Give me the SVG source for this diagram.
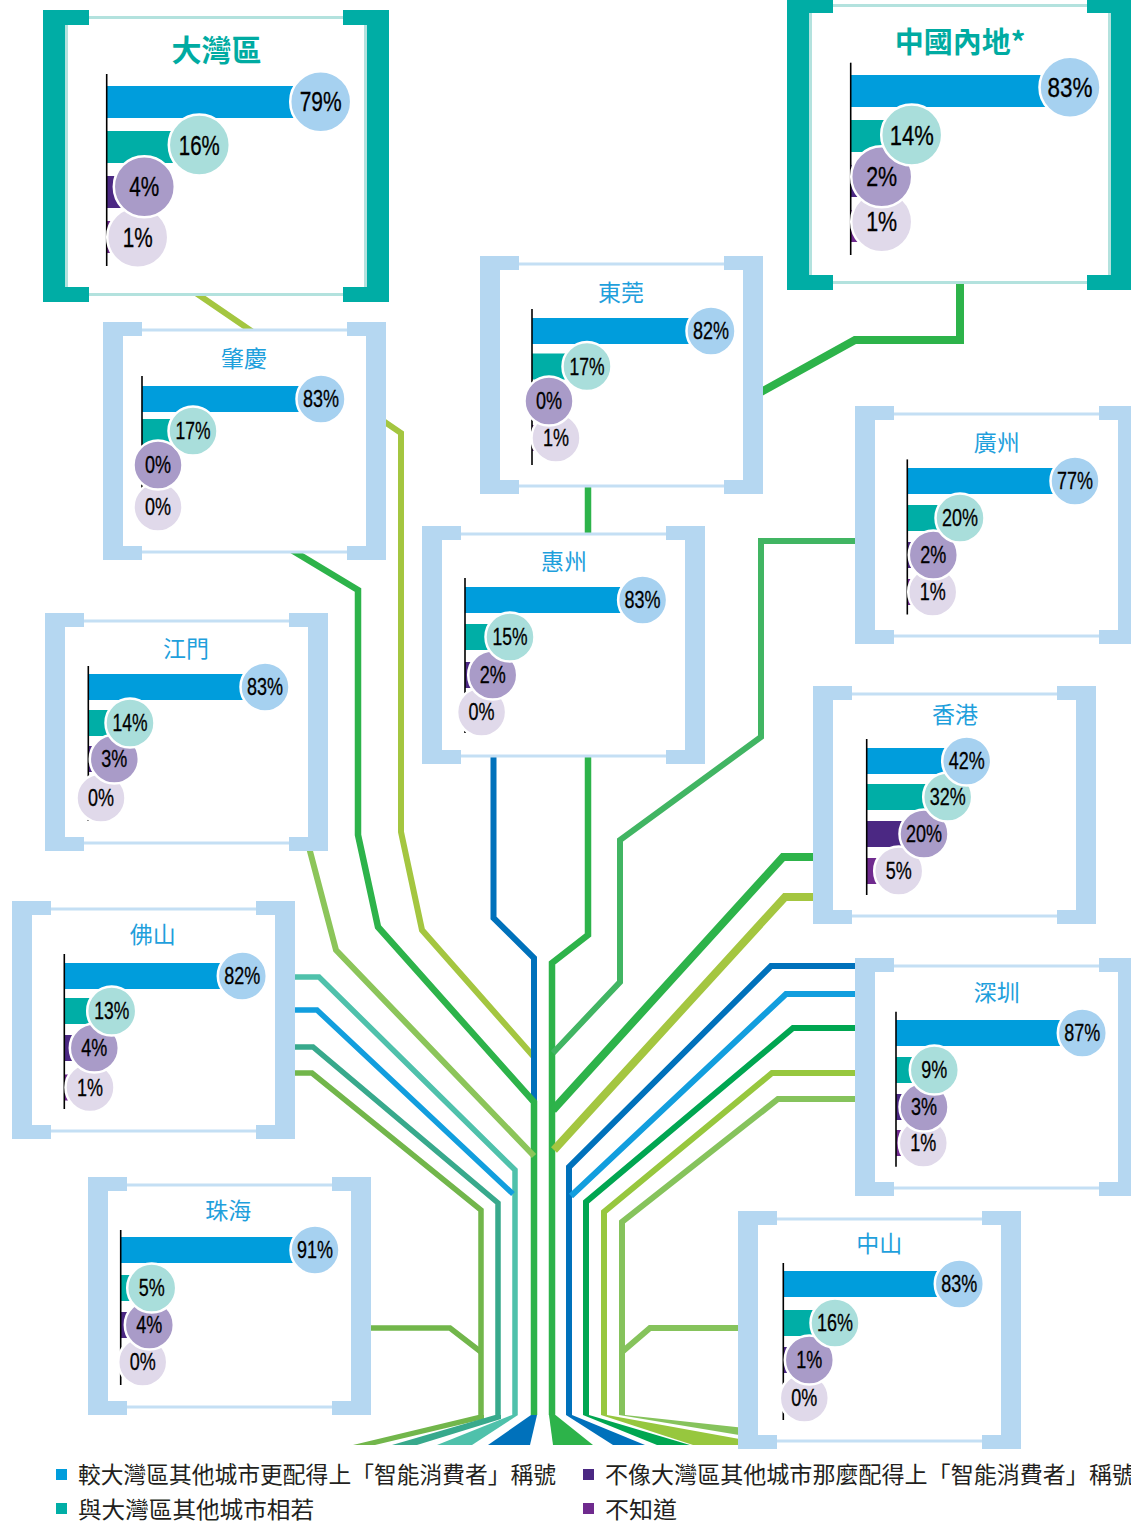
<svg xmlns="http://www.w3.org/2000/svg" xmlns:xlink="http://www.w3.org/1999/xlink" width="1131" height="1522" viewBox="0 0 1131 1522">
<style>
.t{font-family:"Noto Sans CJK TC","Noto Sans CJK SC",sans-serif;font-size:23px;fill:#1fa0dc;text-anchor:middle}
.T{font-family:"Noto Sans CJK TC","Noto Sans CJK SC",sans-serif;font-weight:700;fill:#00aba2;text-anchor:middle}
.p{font-family:"Liberation Sans",Arial,sans-serif;font-size:23.5px;fill:#000;stroke:#000;stroke-width:0.3;text-anchor:middle}
.P{font-size:27.5px}
.c{stroke:#fff;stroke-width:2.5}
.c1{fill:#a6d1f0}.c2{fill:#a9dedb}.c3{fill:#a99bc8}.c4{fill:#e0d9ea}
.b1{fill:#009ddc}.b2{fill:#00aea6}.b3{fill:#4b2883}.b4{fill:#6f2a8e}
.ax{stroke:#000;stroke-width:1.6}
.lg{font-family:"Noto Sans CJK TC","Noto Sans CJK SC",sans-serif;font-size:23px;fill:#231f20}
</style>
<defs>
<g id="fb">
<rect x="10" y="8" width="263" height="222" fill="#fff" stroke="#c4dff4" stroke-width="3"/>
<path d="M0,0H39V14H20V224H39V238H0Z M283,0H244V14H263V224H244V238H283Z" fill="#b5d7f1"/>
</g>
<g id="ft">
<rect x="23.5" y="7.5" width="299" height="277" fill="#fff" stroke="#b3e2de" stroke-width="3"/>
<path d="M0,0H46V15H22V277H46V292H0Z M346,0H300V15H324V277H300V292H346Z" fill="#00ada5"/>
</g>
</defs>
<rect width="1131" height="1522" fill="#fff"/>

<g id="connectors" fill="none" stroke-linejoin="miter" stroke-linecap="butt">
<path d="M960,280V340H855L752,397" stroke="#2db34a" stroke-width="8"/>
<path d="M190,289L401,433V832L422,930L534,1057" stroke="#a4c640" stroke-width="6"/>
<path d="M493.5,750V918L534,958V1415" stroke="#0071bb" stroke-width="6"/>
<path d="M270,537L358,590V835L378,927L534,1102V1415" stroke="#2db34a" stroke-width="6.5"/>
<path d="M306,836L336,950L534,1156" stroke="#8cc55a" stroke-width="6"/>
<path d="M588,480V935L552,963V1415" stroke="#2db34a" stroke-width="6.5"/>
<path d="M862,541H761V737L620,840V982L553,1053" stroke="#41b563" stroke-width="6"/>
<path d="M820,857H783L553,1110" stroke="#2db34a" stroke-width="8"/>
<path d="M820,897H785L554,1150" stroke="#a4c640" stroke-width="8"/>
<path d="M862,966H771L569,1167V1415" stroke="#0071bb" stroke-width="6"/>
<path d="M862,994H786L571,1196" stroke="#129ede" stroke-width="6"/>
<path d="M862,1028H793L586,1202V1415" stroke="#00a651" stroke-width="6"/>
<path d="M862,1073H772L604,1212V1415" stroke="#97c73e" stroke-width="6"/>
<path d="M862,1099H778L622,1222V1415" stroke="#86c35c" stroke-width="6"/>
<path d="M745,1328H650L622,1352" stroke="#86c35c" stroke-width="6"/>
<path d="M288,977H319L515,1170V1415" stroke="#4fc1ab" stroke-width="5.5"/>
<path d="M288,1010H317L513,1194" stroke="#129ede" stroke-width="5.5"/>
<path d="M288,1047H313L498,1203V1415" stroke="#38a98c" stroke-width="5.5"/>
<path d="M288,1073H312L481,1210V1415" stroke="#72b64b" stroke-width="5.5"/>
<path d="M362,1328H450L481,1352" stroke="#72b64b" stroke-width="5.5"/>
<g stroke="none">
<polygon points="478,1415 484,1415 484,1419 375,1445 353,1445" fill="#72b64b"/>
<polygon points="495,1415 501,1415 501,1419 417,1445 392,1445" fill="#38a98c"/>
<polygon points="512,1415 518,1415 472,1445 437,1445" fill="#4fc1ab"/>
<polygon points="531,1415 537,1415 530,1445 488,1445" fill="#0071bb"/>
<polygon points="549,1415 555.5,1415 593,1445 553,1445" fill="#2db34a"/>
<polygon points="566,1415 572,1415 645,1445 613,1445" fill="#0071bb"/>
<polygon points="583,1415 589,1415 690,1445 657,1445" fill="#00a651"/>
<polygon points="601,1415 607,1415 745,1440 745,1445 693,1445" fill="#97c73e"/>
<polygon points="619,1415 625,1415 745,1428 745,1436" fill="#86c35c"/>
</g>
</g>

<g id="node-gba" transform="translate(43,10)">
<use href="#ft"/>
<text class="T" x="173.5" y="51" font-size="30">大灣區</text>
<rect class="b1" x="63.7" y="76" width="214" height="32"/>
<rect class="b2" x="63.7" y="121" width="92.6" height="32"/>
<rect class="b3" x="63.7" y="166" width="37.6" height="32"/>
<rect class="b4" x="63.7" y="211" width="31" height="32"/>
<line class="ax" x1="63.7" y1="64" x2="63.7" y2="256"/>
<circle class="c c4" cx="94.7" cy="227.3" r="30.5"/><text class="p P" x="94.7" y="237" textLength="30" lengthAdjust="spacingAndGlyphs">1%</text>
<circle class="c c3" cx="101.3" cy="176.7" r="30.5"/><text class="p P" x="101.3" y="186.4" textLength="30" lengthAdjust="spacingAndGlyphs">4%</text>
<circle class="c c2" cx="156.3" cy="135" r="30.5"/><text class="p P" x="156.3" y="144.7" textLength="41" lengthAdjust="spacingAndGlyphs">16%</text>
<circle class="c c1" cx="277.7" cy="91.7" r="30.5"/><text class="p P" x="277.7" y="101.4" textLength="42" lengthAdjust="spacingAndGlyphs">79%</text>
</g>

<g id="node-mainland" transform="translate(787,-2)">
<use href="#ft"/>
<text class="T" x="173" y="55" font-size="29">中國內地*</text>
<rect class="b1" x="63.7" y="77" width="219.3" height="32"/>
<rect class="b2" x="63.7" y="122" width="61" height="32"/>
<rect class="b3" x="63.7" y="167" width="31" height="32"/>
<rect class="b4" x="63.7" y="212" width="31" height="32"/>
<line class="ax" x1="63.7" y1="64.7" x2="63.7" y2="257"/>
<circle class="c c4" cx="94.7" cy="223.7" r="30.5"/><text class="p P" x="94.7" y="233.4" textLength="31" lengthAdjust="spacingAndGlyphs">1%</text>
<circle class="c c3" cx="94.7" cy="178.7" r="30.5"/><text class="p P" x="94.7" y="188.4" textLength="31" lengthAdjust="spacingAndGlyphs">2%</text>
<circle class="c c2" cx="124.7" cy="137" r="30.5"/><text class="p P" x="124.7" y="146.7" textLength="44" lengthAdjust="spacingAndGlyphs">14%</text>
<circle class="c c1" cx="283" cy="89.3" r="30.5"/><text class="p P" x="283" y="99" textLength="45" lengthAdjust="spacingAndGlyphs">83%</text>
</g>

<g id="node-dongguan" transform="translate(480,256)">
<use href="#fb"/>
<text class="t" x="141" y="45">東莞</text>
<rect class="b1" x="52" y="62" width="179" height="26"/>
<rect class="b2" x="52" y="97.5" width="55" height="26"/>
<rect class="b4" x="52" y="169" width="24" height="26"/>
<line class="ax" x1="52" y1="53" x2="52" y2="209"/>
<circle class="c c4" cx="76" cy="182" r="24.5"/><text class="p" x="76" y="190.2" textLength="26" lengthAdjust="spacingAndGlyphs">1%</text>
<circle class="c c3" cx="69" cy="145" r="24.5"/><text class="p" x="69" y="153.2" textLength="26" lengthAdjust="spacingAndGlyphs">0%</text>
<circle class="c c2" cx="107" cy="110.5" r="24.5"/><text class="p" x="107" y="118.7" textLength="35" lengthAdjust="spacingAndGlyphs">17%</text>
<circle class="c c1" cx="231" cy="75" r="24.5"/><text class="p" x="231" y="83.2" textLength="36" lengthAdjust="spacingAndGlyphs">82%</text>
</g>

<g id="node-zhaoqing" transform="translate(103,322)">
<use href="#fb"/>
<text class="t" x="141" y="45">肇慶</text>
<rect class="b1" x="39" y="64" width="179" height="26"/>
<rect class="b2" x="39" y="97" width="51" height="26"/>
<line class="ax" x1="39" y1="54" x2="39" y2="203"/>
<circle class="c c4" cx="55" cy="185" r="24.5"/><text class="p" x="55" y="193.2" textLength="26" lengthAdjust="spacingAndGlyphs">0%</text>
<circle class="c c3" cx="55" cy="143" r="24.5"/><text class="p" x="55" y="151.2" textLength="26" lengthAdjust="spacingAndGlyphs">0%</text>
<circle class="c c2" cx="90" cy="109" r="24.5"/><text class="p" x="90" y="117.2" textLength="35" lengthAdjust="spacingAndGlyphs">17%</text>
<circle class="c c1" cx="218" cy="77" r="24.5"/><text class="p" x="218" y="85.2" textLength="36" lengthAdjust="spacingAndGlyphs">83%</text>
</g>

<g id="node-huizhou" transform="translate(422,526)">
<use href="#fb"/>
<text class="t" x="142" y="44">惠州</text>
<rect class="b1" x="43" y="61" width="177.6" height="26"/>
<rect class="b2" x="43" y="98" width="45" height="26"/>
<rect class="b3" x="43" y="136" width="27.7" height="26"/>
<line class="ax" x1="43" y1="52" x2="43" y2="207"/>
<circle class="c c4" cx="59.6" cy="186" r="24.5"/><text class="p" x="59.6" y="194.2" textLength="26" lengthAdjust="spacingAndGlyphs">0%</text>
<circle class="c c3" cx="70.7" cy="149" r="24.5"/><text class="p" x="70.7" y="157.2" textLength="26" lengthAdjust="spacingAndGlyphs">2%</text>
<circle class="c c2" cx="88" cy="111" r="24.5"/><text class="p" x="88" y="119.2" textLength="35" lengthAdjust="spacingAndGlyphs">15%</text>
<circle class="c c1" cx="220.6" cy="74" r="24.5"/><text class="p" x="220.6" y="82.2" textLength="36" lengthAdjust="spacingAndGlyphs">83%</text>
</g>

<g id="node-jiangmen" transform="translate(45,613)">
<use href="#fb"/>
<text class="t" x="141" y="44">江門</text>
<rect class="b1" x="43.3" y="61" width="176.7" height="26"/>
<rect class="b2" x="43.3" y="97" width="41.7" height="26"/>
<rect class="b3" x="43.3" y="133" width="26" height="26"/>
<line class="ax" x1="43.3" y1="53" x2="43.3" y2="208"/>
<circle class="c c4" cx="56" cy="185" r="24.5"/><text class="p" x="56" y="193.2" textLength="26" lengthAdjust="spacingAndGlyphs">0%</text>
<circle class="c c3" cx="69.3" cy="146" r="24.5"/><text class="p" x="69.3" y="154.2" textLength="26" lengthAdjust="spacingAndGlyphs">3%</text>
<circle class="c c2" cx="85" cy="110" r="24.5"/><text class="p" x="85" y="118.2" textLength="35" lengthAdjust="spacingAndGlyphs">14%</text>
<circle class="c c1" cx="220" cy="74" r="24.5"/><text class="p" x="220" y="82.2" textLength="36" lengthAdjust="spacingAndGlyphs">83%</text>
</g>

<g id="node-foshan" transform="translate(12,901)">
<use href="#fb"/>
<text class="t" x="140.7" y="42">佛山</text>
<rect class="b1" x="52.3" y="62" width="178" height="26"/>
<rect class="b2" x="52.3" y="97" width="47.4" height="26"/>
<rect class="b3" x="52.3" y="134" width="30" height="26"/>
<rect class="b4" x="52.3" y="173.5" width="25.7" height="26"/>
<line class="ax" x1="52.3" y1="53" x2="52.3" y2="208"/>
<circle class="c c4" cx="78" cy="186.5" r="24.5"/><text class="p" x="78" y="194.7" textLength="26" lengthAdjust="spacingAndGlyphs">1%</text>
<circle class="c c3" cx="82.3" cy="147" r="24.5"/><text class="p" x="82.3" y="155.2" textLength="26" lengthAdjust="spacingAndGlyphs">4%</text>
<circle class="c c2" cx="99.7" cy="110" r="24.5"/><text class="p" x="99.7" y="118.2" textLength="35" lengthAdjust="spacingAndGlyphs">13%</text>
<circle class="c c1" cx="230.3" cy="75" r="24.5"/><text class="p" x="230.3" y="83.2" textLength="36" lengthAdjust="spacingAndGlyphs">82%</text>
</g>

<g id="node-zhuhai" transform="translate(88,1177)">
<use href="#fb"/>
<text class="t" x="140.3" y="42">珠海</text>
<rect class="b1" x="32.7" y="60" width="194.3" height="26"/>
<rect class="b2" x="32.7" y="98" width="31" height="26"/>
<rect class="b3" x="32.7" y="135" width="28.6" height="26"/>
<line class="ax" x1="32.7" y1="53" x2="32.7" y2="208"/>
<circle class="c c4" cx="54.7" cy="185" r="24.5"/><text class="p" x="54.7" y="193.2" textLength="26" lengthAdjust="spacingAndGlyphs">0%</text>
<circle class="c c3" cx="61.3" cy="148" r="24.5"/><text class="p" x="61.3" y="156.2" textLength="26" lengthAdjust="spacingAndGlyphs">4%</text>
<circle class="c c2" cx="63.7" cy="111" r="24.5"/><text class="p" x="63.7" y="119.2" textLength="26" lengthAdjust="spacingAndGlyphs">5%</text>
<circle class="c c1" cx="227" cy="73" r="24.5"/><text class="p" x="227" y="81.2" textLength="36" lengthAdjust="spacingAndGlyphs">91%</text>
</g>

<g id="node-guangzhou" transform="translate(855,406)">
<use href="#fb"/>
<text class="t" x="141.7" y="45">廣州</text>
<rect class="b1" x="52.3" y="62" width="167.7" height="26"/>
<rect class="b2" x="52.3" y="99" width="52.7" height="26"/>
<rect class="b3" x="52.3" y="136" width="26" height="26"/>
<rect class="b4" x="52.3" y="173" width="25.4" height="26"/>
<line class="ax" x1="52.3" y1="53.4" x2="52.3" y2="208.5"/>
<circle class="c c4" cx="77.7" cy="186" r="24.5"/><text class="p" x="77.7" y="194.2" textLength="26" lengthAdjust="spacingAndGlyphs">1%</text>
<circle class="c c3" cx="78.3" cy="149" r="24.5"/><text class="p" x="78.3" y="157.2" textLength="26" lengthAdjust="spacingAndGlyphs">2%</text>
<circle class="c c2" cx="105" cy="112" r="24.5"/><text class="p" x="105" y="120.2" textLength="36" lengthAdjust="spacingAndGlyphs">20%</text>
<circle class="c c1" cx="220" cy="75" r="24.5"/><text class="p" x="220" y="83.2" textLength="36" lengthAdjust="spacingAndGlyphs">77%</text>
</g>

<g id="node-hongkong" transform="translate(813,686)">
<use href="#fb"/>
<text class="t" x="142" y="37">香港</text>
<rect class="b1" x="53.7" y="62" width="100" height="26"/>
<rect class="b2" x="53.7" y="98" width="81" height="26"/>
<rect class="b3" x="53.7" y="135" width="57.3" height="26"/>
<rect class="b4" x="53.7" y="172" width="32" height="26"/>
<line class="ax" x1="53.7" y1="53" x2="53.7" y2="209"/>
<circle class="c c4" cx="85.7" cy="185" r="24.5"/><text class="p" x="85.7" y="193.2" textLength="26" lengthAdjust="spacingAndGlyphs">5%</text>
<circle class="c c3" cx="111" cy="148" r="24.5"/><text class="p" x="111" y="156.2" textLength="36" lengthAdjust="spacingAndGlyphs">20%</text>
<circle class="c c2" cx="134.7" cy="111" r="24.5"/><text class="p" x="134.7" y="119.2" textLength="36" lengthAdjust="spacingAndGlyphs">32%</text>
<circle class="c c1" cx="153.7" cy="75" r="24.5"/><text class="p" x="153.7" y="83.2" textLength="36" lengthAdjust="spacingAndGlyphs">42%</text>
</g>

<g id="node-shenzhen" transform="translate(855,958)">
<use href="#fb"/>
<text class="t" x="141.7" y="43">深圳</text>
<rect class="b1" x="41" y="62" width="186.3" height="26"/>
<rect class="b2" x="41" y="99" width="38.3" height="26"/>
<rect class="b3" x="41" y="136" width="28" height="26"/>
<rect class="b4" x="41" y="172" width="27.3" height="26"/>
<line class="ax" x1="41" y1="53.7" x2="41" y2="208.7"/>
<circle class="c c4" cx="68.3" cy="185" r="24.5"/><text class="p" x="68.3" y="193.2" textLength="26" lengthAdjust="spacingAndGlyphs">1%</text>
<circle class="c c3" cx="69" cy="149" r="24.5"/><text class="p" x="69" y="157.2" textLength="26" lengthAdjust="spacingAndGlyphs">3%</text>
<circle class="c c2" cx="79.3" cy="112" r="24.5"/><text class="p" x="79.3" y="120.2" textLength="26" lengthAdjust="spacingAndGlyphs">9%</text>
<circle class="c c1" cx="227.3" cy="75" r="24.5"/><text class="p" x="227.3" y="83.2" textLength="36" lengthAdjust="spacingAndGlyphs">87%</text>
</g>

<g id="node-zhongshan" transform="translate(738,1211)">
<use href="#fb"/>
<text class="t" x="141.3" y="41">中山</text>
<rect class="b1" x="45.3" y="60" width="176" height="26"/>
<rect class="b2" x="45.3" y="99" width="51.7" height="26"/>
<rect class="b3" x="45.3" y="136" width="26" height="26"/>
<line class="ax" x1="45.3" y1="52" x2="45.3" y2="209"/>
<circle class="c c4" cx="66.3" cy="187" r="24.5"/><text class="p" x="66.3" y="195.2" textLength="26" lengthAdjust="spacingAndGlyphs">0%</text>
<circle class="c c3" cx="71.3" cy="149" r="24.5"/><text class="p" x="71.3" y="157.2" textLength="26" lengthAdjust="spacingAndGlyphs">1%</text>
<circle class="c c2" cx="97" cy="112" r="24.5"/><text class="p" x="97" y="120.2" textLength="36" lengthAdjust="spacingAndGlyphs">16%</text>
<circle class="c c1" cx="221.3" cy="73" r="24.5"/><text class="p" x="221.3" y="81.2" textLength="36" lengthAdjust="spacingAndGlyphs">83%</text>
</g>

<g id="legend">
<rect x="56" y="1469" width="11" height="11" fill="#009ddc"/>
<text class="lg" x="78" y="1483" textLength="478" lengthAdjust="spacingAndGlyphs">較大灣區其他城市更配得上「智能消費者」稱號</text>
<rect x="56" y="1503" width="11" height="11" fill="#00aea6"/>
<text class="lg" x="78" y="1518" textLength="236" lengthAdjust="spacingAndGlyphs">與大灣區其他城市相若</text>
<rect x="583" y="1469" width="11" height="11" fill="#4b2883"/>
<text class="lg" x="605" y="1483" textLength="530" lengthAdjust="spacingAndGlyphs">不像大灣區其他城市那麼配得上「智能消費者」稱號</text>
<rect x="583" y="1503" width="11" height="11" fill="#6f2a8e"/>
<text class="lg" x="605" y="1518" textLength="72" lengthAdjust="spacingAndGlyphs">不知道</text>
</g>
</svg>
